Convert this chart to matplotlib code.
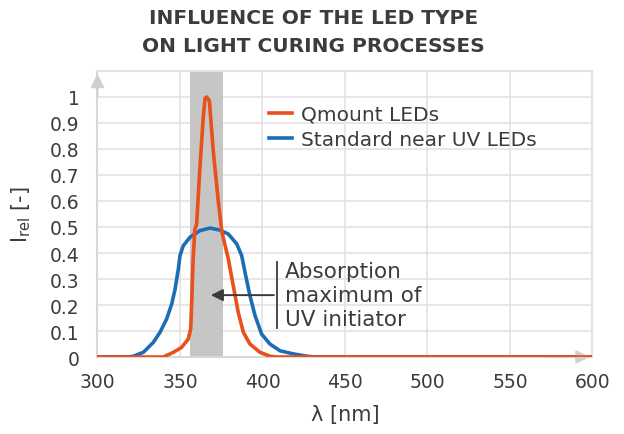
import numpy as np
import matplotlib
matplotlib.use('Agg')
import matplotlib.pyplot as plt

plt.rcParams['font.family'] = ['DejaVu Sans']

# Données
wl_qmount = [300, 339.9, 346, 351, 355, 356.5, 357.1, 358, 359, 360.1, 362.1, 364.1, 365.2,
             366.2, 367.8, 370.2, 373.2, 375.3, 376.2, 379.3, 382.3, 385.3, 388.4, 392.4,
             398.5, 404.5, 408.6, 600]
i_qmount = [0, 0, 0.018, 0.037, 0.069, 0.108, 0.21, 0.377, 0.49, 0.51, 0.73, 0.92, 0.995,
            1.0, 0.986, 0.79, 0.60, 0.486, 0.46, 0.377, 0.274, 0.172, 0.095, 0.05,
            0.018, 0.003, 0, 0]

wl_std = [300, 318, 321.7, 327.8, 333.8, 337.9, 341.9, 345, 347, 349, 350, 352, 356, 362,
          368.2, 374.2, 379.3, 384.4, 387.4, 389.4, 392.4, 395.5, 399.5, 404.5, 410.6,
          418.7, 426.8, 432, 600]
i_std = [0, 0, 0.003, 0.018, 0.056, 0.095, 0.146, 0.204, 0.26, 0.338, 0.39, 0.428, 0.46,
         0.486, 0.496, 0.488, 0.473, 0.435, 0.39, 0.326, 0.236, 0.159, 0.088, 0.05, 0.024,
         0.012, 0.003, 0, 0]

band = (356, 376)
xticks = [300, 350, 400, 450, 500, 550, 600]
yticks = [0, 0.1, 0.2, 0.3, 0.4, 0.5, 0.6, 0.7, 0.8, 0.9, 1.0]
ytick_labels = ['0', '0.1', '0.2', '0.3', '0.4', '0.5', '0.6', '0.7', '0.8', '0.9', '1']

orange = '#e8501c'
blue = '#1b6db4'
txt = '#3c3c3c'
grid = '#e3e3e3'

fig = plt.figure(figsize=(6.24, 4.35), dpi=100)
ax = fig.add_axes([0.1562, 0.177, 0.7933, 0.6575])

ax.axvspan(band[0], band[1], color='#c6c6c6', lw=0, zorder=1)
ax.plot(wl_std, i_std, color=blue, lw=2.6, label='Standard near UV LEDs', zorder=3,
        solid_joinstyle='round')
ax.plot(wl_qmount, i_qmount, color=orange, lw=2.6, label='Qmount LEDs', zorder=4,
        solid_joinstyle='round')

ax.set_xlim(300, 600)
ax.set_ylim(0, 1.1)
ax.set_xticks(xticks)
ax.set_xticklabels([str(t) for t in xticks])
ax.set_yticks(yticks)
ax.set_yticklabels(ytick_labels)
ax.tick_params(length=0, labelsize=13.5, colors=txt)
ax.tick_params(axis='x', pad=11)
ax.tick_params(axis='y', pad=13)

# grille
ax.grid(True, color=grid, lw=1.2, zorder=0)
ax.set_axisbelow(True)
for s in ['top', 'right']:
    ax.spines[s].set_color(grid)
    ax.spines[s].set_linewidth(1.5)
for s in ['left', 'bottom']:
    ax.spines[s].set_color('#d8d8d8')
    ax.spines[s].set_linewidth(1.5)

# flèches des axes
ax.annotate('', xy=(0, 1.0), xycoords='axes fraction', xytext=(0, 0.9),
            arrowprops=dict(arrowstyle='-|>', color='#d0d0d0', lw=1.5, mutation_scale=20))
ax.annotate('', xy=(1.0, 0), xycoords='axes fraction', xytext=(0.9, 0),
            arrowprops=dict(arrowstyle='-|>', color='#d0d0d0', lw=1.5, mutation_scale=20))

# annotation
ax.plot([408.6, 408.6], [0.11, 0.367], color=txt, lw=1.3, zorder=5)
ax.annotate('', xy=(367, 0.238), xytext=(408.6, 0.238),
            arrowprops=dict(arrowstyle='-|>', color=txt, lw=1.4, mutation_scale=18), zorder=5)
ax.text(413.5, 0.238, 'Absorption\nmaximum of\nUV initiator', fontsize=15.5, color=txt,
        va='center', ha='left', linespacing=1.25)

leg = ax.legend(handles=ax.get_lines()[1::-1], loc='upper left', bbox_to_anchor=(0.31, 0.945),
                frameon=False, fontsize=14.5, handlelength=1.15, handletextpad=0.45,
                labelspacing=0.3, labelcolor=txt)

ax.set_xlabel('λ [nm]', fontsize=15, color=txt, labelpad=9)
ax.set_ylabel(r'I$_{\mathregular{rel}}$ [-]', fontsize=15, color=txt, labelpad=12)

fig.text(0.503, 0.957, 'INFLUENCE OF THE LED TYPE', ha='center', va='center',
         fontsize=14.5, fontweight='bold', color=txt)
fig.text(0.503, 0.893, 'ON LIGHT CURING PROCESSES', ha='center', va='center',
         fontsize=14.5, fontweight='bold', color=txt)

fig.savefig('out.png', dpi=100)
